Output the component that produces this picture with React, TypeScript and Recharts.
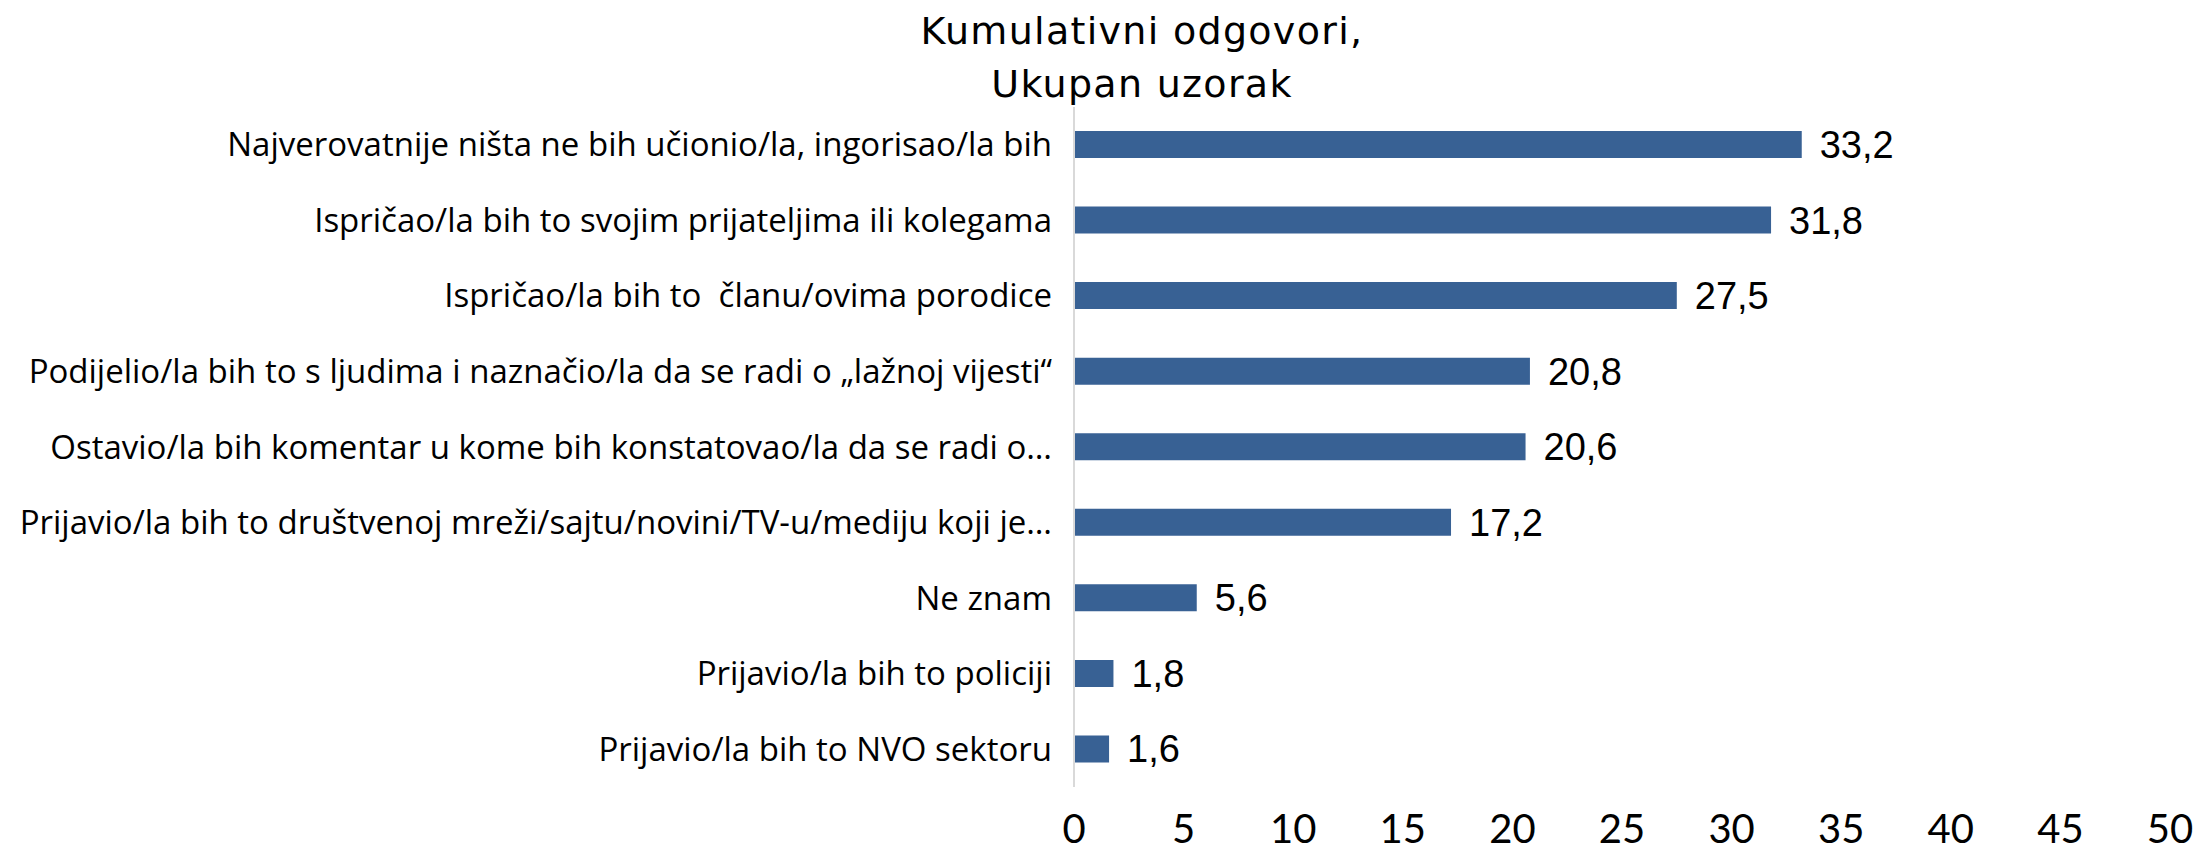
import React from 'react';
import { BarChart, Bar, XAxis, YAxis, LabelList } from 'recharts';

const categories = [
  'Najverovatnije ništa ne bih učionio/la, ingorisao/la bih',
  'Ispričao/la bih to svojim prijateljima ili kolegama',
  'Ispričao/la bih to  članu/ovima porodice',
  'Podijelio/la bih to s ljudima i naznačio/la da se radi o „lažnoj vijesti“',
  'Ostavio/la bih komentar u kome bih konstatovao/la da se radi o…',
  'Prijavio/la bih to društvenoj mreži/sajtu/novini/TV-u/mediju koji je…',
  'Ne znam',
  'Prijavio/la bih to policiji',
  'Prijavio/la bih to NVO sektoru',
];
const values = [33.2, 31.8, 27.5, 20.8, 20.6, 17.2, 5.6, 1.8, 1.6];
const xTicks = [0, 5, 10, 15, 20, 25, 30, 35, 40, 45, 50];
const titleLines = ['Kumulativni odgovori,', 'Ukupan uzorak'];

const data = categories.map((name, i) => ({ name, value: values[i] }));

const labelFont = '"Open Sans", Lato, "Noto Sans", sans-serif';

// comma decimal like the original
const fmt = (v: number) => v.toFixed(1).replace('.', ',');

const CategoryTick = ({ x, y, payload }: any) => (
  <text
    x={x - 14}
    y={y}
    dy="0.35em"
    textAnchor="end"
    style={{ fontFamily: labelFont, fontSize: 33, fill: '#000000' }}
    xmlSpace="preserve"
  >
    {payload.value}
  </text>
);

const ValueTick = ({ x, y, payload }: any) => (
  <text
    x={x}
    y={y}
    dy={48}
    textAnchor="middle"
    style={{ fontFamily: 'Lato, sans-serif', fontSize: 40, fill: '#000000' }}
  >
    {payload.value}
  </text>
);

export default function App() {
  return (
    <div style={{ position: 'absolute', left: 0, top: 0, width: 2197, height: 853, background: '#ffffff' }}>
      {/* Title */}
      <div style={{
        position: 'absolute',
        left: 842,
        top: 5,
        width: 600,
        textAlign: 'center',
        fontFamily: '"DejaVu Sans", sans-serif',
        fontSize: 38,
        lineHeight: '53px',
        color: '#000000',
        letterSpacing: '1.3px'
      }}>
        {titleLines.map((t) => <div key={t}>{t}</div>)}
      </div>

      <BarChart
        width={2197}
        height={853}
        data={data}
        layout="vertical"
        margin={{ top: 107, right: 27, left: 0, bottom: 0 }}
        barCategoryGap="64%"
      >
        <XAxis
          type="number"
          domain={[0, 50]}
          ticks={xTicks}
          interval={0}
          axisLine={false}
          tickLine={false}
          height={66}
          tick={<ValueTick />}
        />
        <YAxis
          type="category"
          dataKey="name"
          width={1074}
          interval={0}
          axisLine={{ stroke: '#d9d9d9', strokeWidth: 2 }}
          tickLine={false}
          tick={<CategoryTick />}
        />
        <Bar dataKey="value" fill="#386194" barSize={27} isAnimationActive={false}>
          <LabelList
            dataKey="value"
            position="right"
            offset={18}
            formatter={(v: any) => fmt(Number(v))}
            style={{ fontFamily: '"Liberation Sans", Arial, sans-serif', fontSize: 38, fill: '#000000' }}
          />
        </Bar>
      </BarChart>
    </div>
  );
}
